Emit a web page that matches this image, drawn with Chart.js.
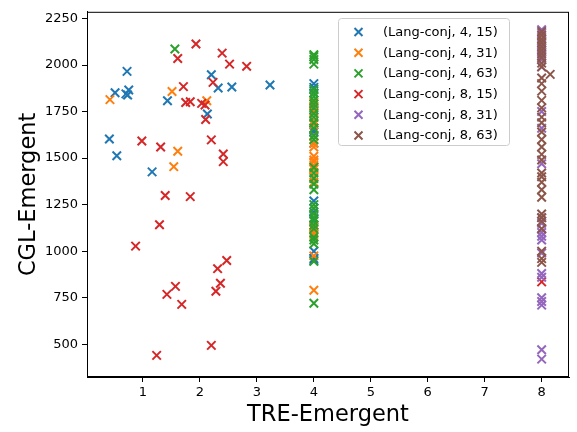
<!DOCTYPE html>
<html>
<head>
<meta charset="utf-8">
<script src="https://cdn.jsdelivr.net/npm/chart.js@4.4.1/dist/chart.umd.min.js"></script>
<style>
  html, body { margin: 0; padding: 0; background: #fff; }
  #wrap { width: 577px; height: 432px; }
</style>
</head>
<body>
<div id="wrap"><canvas id="myChart" width="577" height="432"></canvas></div>
<script>
// series labels and colours (matplotlib tab10)
const seriesNames = [
  '(Lang-conj, 4, 15)', '(Lang-conj, 4, 31)', '(Lang-conj, 4, 63)',
  '(Lang-conj, 8, 15)', '(Lang-conj, 8, 31)', '(Lang-conj, 8, 63)',
];
const seriesColors = ['#1f77b4', '#ff7f0e', '#2ca02c', '#d62728', '#9467bd', '#8c564b'];

const xTicks = [1, 2, 3, 4, 5, 6, 7, 8];
const yTicks = [500, 750, 1000, 1250, 1500, 1750, 2000, 2250];

// [TRE, CGL] pairs
const lc4_15 = [
  [0.72, 1966], [0.51, 1851], [0.75, 1866], [0.73, 1839], [0.70, 1845], [1.43, 1808],
  [2.20, 1948], [2.32, 1877], [2.56, 1882], [3.23, 1893], [2.13, 1737], [0.41, 1603],
  [0.54, 1513], [1.16, 1426],
  [4, 1900], [4, 1880], [4, 1850], [4, 1760], [4, 1700], [4, 1650], [4, 1640], [4, 1580],
  [4, 1270], [4, 1230], [4, 1210], [4, 1170], [4, 1140], [4, 1000], [4, 960], [4, 950],
];
const lc4_31 = [
  [0.42, 1814], [1.51, 1858], [2.12, 1808], [1.61, 1537], [1.54, 1454],
  [4, 1800], [4, 1780], [4, 1750], [4, 1700], [4, 1680], [4, 1620], [4, 1580], [4, 1560],
  [4, 1510], [4, 1490], [4, 1480], [4, 1460], [4, 1450], [4, 1440], [4, 1400], [4, 1370],
  [4, 1130], [4, 1115], [4, 1100], [4, 1090], [4, 975], [4, 790],
];
const lc4_63 = [
  [1.56, 2086],
  [4, 2055], [4, 2045], [4, 2030], [4, 2005], [4, 1870], [4, 1850], [4, 1830], [4, 1810],
  [4, 1790], [4, 1770], [4, 1740], [4, 1720], [4, 1690], [4, 1660], [4, 1620], [4, 1600],
  [4, 1450], [4, 1420], [4, 1390], [4, 1360], [4, 1330], [4, 1250], [4, 1230], [4, 1200],
  [4, 1180], [4, 1160], [4, 1140], [4, 1120], [4, 1075], [4, 1060], [4, 1040], [4, 945], [4, 720],
];
const lc8_15 = [
  [1.93, 2113], [1.61, 2035], [2.39, 2064], [2.52, 2005], [2.82, 1993], [2.23, 1907],
  [1.71, 1884], [1.75, 1799], [1.83, 1803], [2.03, 1794], [2.09, 1785], [2.10, 1707],
  [2.20, 1598], [2.41, 1522], [2.41, 1481], [0.98, 1592], [1.31, 1560], [1.39, 1299],
  [1.83, 1293], [1.29, 1142], [0.87, 1027], [2.31, 906], [2.47, 950], [2.36, 828],
  [2.28, 785], [1.57, 811], [1.42, 768], [1.68, 714], [2.20, 494], [1.24, 440],
  [8, 835],
];
const lc8_31 = [
  [8, 2190], [8, 2170], [8, 2130], [8, 2110], [8, 2090], [8, 2070], [8, 2050], [8, 2030],
  [8, 1990], [8, 1750], [8, 1660], [8, 1470], [8, 1180], [8, 1150], [8, 1120], [8, 1100],
  [8, 1080], [8, 1060], [8, 990], [8, 880], [8, 860], [8, 750], [8, 730], [8, 710],
  [8, 470], [8, 420],
];
const lc8_63 = [
  [8, 2180], [8, 2160], [8, 2140], [8, 2120], [8, 2100], [8, 2080], [8, 2060], [8, 2040],
  [8, 2010], [8, 1990], [8, 1930], [8, 1900], [8, 1860], [8, 1810], [8, 1770], [8, 1720],
  [8, 1690], [8, 1640], [8, 1600], [8, 1560], [8, 1520], [8, 1490], [8, 1420], [8, 1400],
  [8, 1370], [8, 1330], [8, 1290], [8, 1200], [8, 1180], [8, 1160], [8, 1120], [8, 1000],
  [8, 960], [8, 940], [8.15, 1950],
];

const allSeries = [lc4_15, lc4_31, lc4_63, lc8_15, lc8_31, lc8_63];
const FONT = "'DejaVu Sans', sans-serif";

Chart.defaults.font.family = FONT;
Chart.defaults.color = '#000';

// frame round the plot + legend box inside, top right
const framePlugin = {
  id: 'frame',
  afterDatasetsDraw(chart) {
    const { ctx, chartArea: a } = chart;
    ctx.save();
    ctx.strokeStyle = '#000';
    ctx.lineWidth = 1;
    ctx.strokeRect(a.left + 0.5, a.top + 0.5, a.right - a.left - 1, a.bottom - a.top - 1);
    ctx.restore();
  },
  afterDraw(chart) {
    const { ctx } = chart;
    const box = { x: 338.5, y: 18.5, w: 171, h: 127 };
    ctx.save();
    ctx.beginPath();
    ctx.roundRect(box.x, box.y, box.w, box.h, 3);
    ctx.fillStyle = 'rgba(255,255,255,0.8)';
    ctx.fill();
    ctx.strokeStyle = '#cccccc';
    ctx.lineWidth = 1;
    ctx.stroke();
    ctx.font = '13px ' + FONT;
    ctx.textBaseline = 'middle';
    chart.data.datasets.forEach((ds, i) => {
      const y = 32 + i * 20.7;
      const x = 358.5;
      const r = 4;
      ctx.strokeStyle = ds.borderColor;
      ctx.lineWidth = 2;
      ctx.beginPath();
      ctx.moveTo(x - r, y - r); ctx.lineTo(x + r, y + r);
      ctx.moveTo(x - r, y + r); ctx.lineTo(x + r, y - r);
      ctx.stroke();
      ctx.fillStyle = '#000';
      ctx.fillText(ds.label, 383, y + 0.5);
    });
    ctx.restore();
  },
};

const datasets = allSeries.map((pts, i) => ({
  label: seriesNames[i],
  data: pts.map((p) => ({ x: p[0], y: p[1] })),
  pointStyle: 'crossRot',
  pointRadius: 6,
  pointHoverRadius: 6,
  borderWidth: 2,
  borderColor: seriesColors[i],
  backgroundColor: seriesColors[i],
  order: allSeries.length - i,
}));

const ctx = document.getElementById('myChart').getContext('2d');
const myChart = new Chart(ctx, {
  type: 'scatter',
  data: { datasets },
  plugins: [framePlugin],
  options: {
    responsive: false,
    animation: false,
    events: [],
    layout: { padding: { top: 11, right: 3, left: 0, bottom: 0 } },
    plugins: { legend: { display: false }, tooltip: { enabled: false } },
    scales: {
      x: {
        type: 'linear',
        min: 0.017,
        max: 8.48,
        afterBuildTicks: (scale) => { scale.ticks = xTicks.map((v) => ({ value: v })); },
        afterFit: (scale) => { scale.height = 55; },
        grid: { display: true, drawOnChartArea: false, drawTicks: true, tickLength: 5, tickColor: '#000' },
        border: { display: true, color: '#000' },
        ticks: { font: { size: 13 }, padding: 3, maxRotation: 0, autoSkip: false, callback: (v) => String(v) },
        title: {
          display: true,
          text: 'TRE-Emergent',
          font: { size: 22.5, lineHeight: 1.2 },
          padding: { top: 0, bottom: 3.5 },
        },
      },
      y: {
        type: 'linear',
        min: 324,
        max: 2286,
        afterBuildTicks: (scale) => { scale.ticks = yTicks.map((v) => ({ value: v })); },
        afterFit: (scale) => { scale.width = 87; },
        grid: { display: true, drawOnChartArea: false, drawTicks: true, tickLength: 5, tickColor: '#000' },
        border: { display: true, color: '#000' },
        ticks: { font: { size: 13 }, padding: 4, autoSkip: false, callback: (v) => String(v) },
        title: {
          display: true,
          text: 'CGL-Emergent',
          font: { size: 22.5, lineHeight: 1.2 },
          padding: { top: 16, bottom: 0 },
        },
      },
    },
  },
});
console.warn(myChart.chartArea);
</script>
</body>
</html>
